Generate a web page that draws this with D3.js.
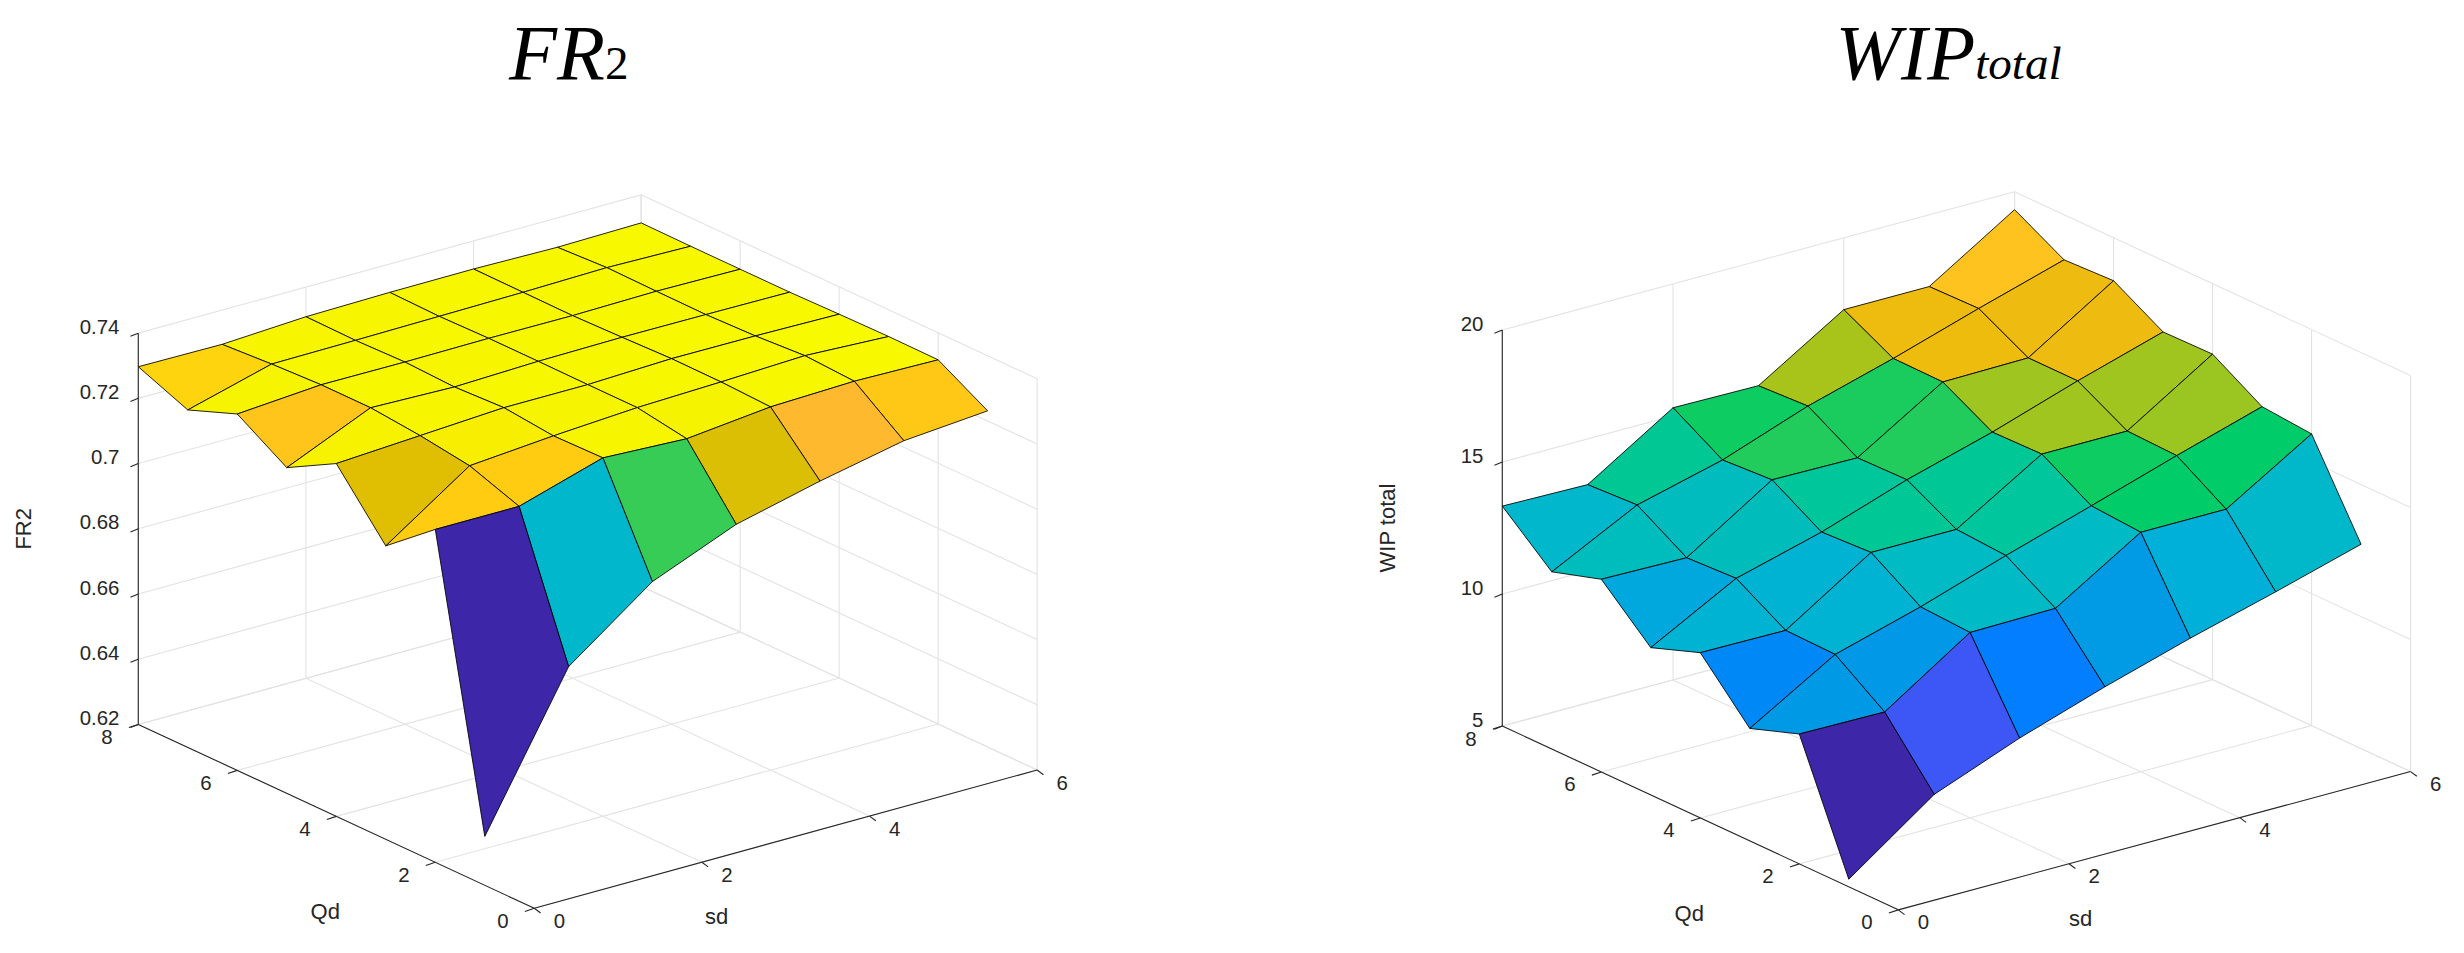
<!DOCTYPE html>
<html><head><meta charset="utf-8">
<script src="https://cdn.jsdelivr.net/npm/d3@7"></script>
<style>body{margin:0;background:#fff}svg{display:block}</style>
</head><body>
<svg id="c" width="2464" height="953"></svg>
<script>
// ---- data ----
const sdVals = [0,1,2,3,4,5,6];
const qdVals = [1,2,3,4,5,6,7,8];
// rows = Qd (1..8), columns = sd (0..6)
const fr2 = [
 [0.635,0.680,0.699,0.7095,0.7157,0.7210,0.7231],
 [0.7221,0.7221,0.7299,0.7287,0.7314,0.7322,0.7317],
 [0.710,0.7275,0.7296,0.7312,0.7320,0.7330,0.7318],
 [0.7282,0.7297,0.7312,0.7312,0.7321,0.7320,0.7316],
 [0.7199,0.7312,0.7305,0.7313,0.7316,0.7315,0.7313],
 [0.7293,0.7312,0.7311,0.7313,0.7312,0.7316,0.7313],
 [0.7235,0.7305,0.7307,0.7310,0.7313,0.7318,0.7313],
 [0.7297,0.7295,0.7309,0.7313,0.7314,0.7310,0.7314]
];
const wip = [
 [5.29,7.63,8.89,9.96,10.93,11.81,12.74],
 [9.92,9.88,12.02,12.06,14.07,14.07,16.05],
 [9.26,11.19,12.12,13.19,14.20,15.23,16.21],
 [11.26,11.23,13.31,13.31,15.29,15.29,17.33],
 [10.58,12.33,13.21,14.32,15.25,16.32,17.30],
 [12.30,12.24,14.32,14.28,16.28,16.32,18.37],
 [11.71,13.37,14.20,15.37,16.30,17.32,18.29],
 [13.33,13.27,15.31,15.27,17.28,17.28,19.32]
];
const sdTicks = [0,2,4,6];
const qdTicks = [0,2,4,6,8];
const fr2Ticks = [0.62,0.64,0.66,0.68,0.7,0.72,0.74];
const fr2TickLabels = ["0.62","0.64","0.66","0.68","0.7","0.72","0.74"];
const wipTicks = [5,10,15,20];
const wipTickLabels = ["5","10","15","20"];

// parula-like colormap
const parulaStops = [
 [0.00,"#3e26a8"],[0.17,"#3d57f8"],[0.26,"#0080ff"],[0.33,"#0099e6"],[0.40,"#00b0d8"],
 [0.48,"#00bac6"],[0.56,"#00c6a0"],[0.63,"#00cc66"],[0.66,"#48cc50"],[0.71,"#9ec520"],
 [0.77,"#e6be00"],[0.82,"#ffb830"],[0.89,"#ffcc10"],[0.95,"#f6f200"],[1.00,"#f8fa00"]
];
const parula = d3.scaleLinear().domain(parulaStops.map(d=>d[0])).range(parulaStops.map(d=>d[1])).interpolate(d3.interpolateRgb);

const k = 2464/1568;
const svg = d3.select("#c");
const root = svg.append("g").attr("transform",`scale(${k})`);
const FONT = "'Liberation Sans', Arial, sans-serif";

function drawPlot(cfg){
  const g = root.append("g");
  const sdX = d3.scaleLinear([0,6],[0,cfg.sdLen[0]]), sdY = d3.scaleLinear([0,6],[0,cfg.sdLen[1]]);
  const qX = d3.scaleLinear([0,8],[0,cfg.qLen[0]]), qY = d3.scaleLinear([0,8],[0,cfg.qLen[1]]);
  const zS = d3.scaleLinear(cfg.zDom,[0,cfg.zLen]);
  const P = (s,q,z)=>[cfg.o[0]+sdX(s)+qX(q), cfg.o[1]+sdY(s)+qY(q)-zS(z)];
  const z0 = cfg.zDom[0], z1 = cfg.zDom[1];
  const line = (a,b,col,w)=>g.append("line").attr("x1",a[0]).attr("y1",a[1]).attr("x2",b[0]).attr("y2",b[1]).attr("stroke",col).attr("stroke-width",w);
  const GC="#e3e3e3", AC="#262626";
  cfg.zTicks.forEach(z=>{ line(P(0,8,z),P(6,8,z),GC,0.7); line(P(6,8,z),P(6,0,z),GC,0.7); });
  sdTicks.forEach(s=>{ line(P(s,8,z0),P(s,8,z1),GC,0.7); line(P(s,0,z0),P(s,8,z0),GC,0.7); });
  qdTicks.forEach(q=>{ line(P(6,q,z0),P(6,q,z1),GC,0.7); line(P(0,q,z0),P(6,q,z0),GC,0.7); });
  line(P(0,8,z0),P(0,8,z1),AC,0.7);
  line(P(0,8,z0),P(0,0,z0),AC,0.7);
  line(P(0,0,z0),P(6,0,z0),AC,0.7);
  const lab = (p,t,anchor)=>g.append("text").attr("x",p[0]).attr("y",p[1]).attr("text-anchor",anchor)
     .attr("dominant-baseline","middle").attr("font-family",FONT).attr("font-size",13).attr("fill","#262626").text(t);
  cfg.zTicks.forEach((z,i)=>{ const p=P(0,8,z); line(p,[p[0]-5,p[1]+2],AC,0.7); lab([p[0]-12,p[1]-3],cfg.zLabels[i],"end"); });
  qdTicks.forEach(q=>{ const p=P(0,q,z0); line(p,[p[0]-6,p[1]+2],AC,0.7); lab([p[0]-20,p[1]+9],String(q),"middle"); });
  sdTicks.forEach(s=>{ const p=P(s,0,z0); line(p,[p[0]+4,p[1]+3],AC,0.7); lab([p[0]+16,p[1]+9],String(s),"middle"); });
  const o0=P(0,0,z0);
  g.append("text").attr("x",o0[0]-133).attr("y",o0[1]+7).attr("text-anchor","middle").attr("font-family",FONT).attr("font-size",14).attr("fill","#262626").text("Qd");
  g.append("text").attr("x",o0[0]+116).attr("y",o0[1]+10).attr("text-anchor","middle").attr("font-family",FONT).attr("font-size",14).attr("fill","#262626").text("sd");
  const zl=P(0,8,(z0+z1)/2);
  g.append("text").attr("transform",`translate(${zl[0]-68},${zl[1]}) rotate(-90)`).attr("text-anchor","middle")
    .attr("font-family",FONT).attr("font-size",14).attr("fill","#262626").text(cfg.zName);
  const data = cfg.Z;
  const flat = data.flat(); const cmin=d3.min(flat), cmax=d3.max(flat);
  const cells=[];
  for(let i=0;i<qdVals.length-1;i++) for(let j=0;j<sdVals.length-1;j++){
    const pts=[[j,i],[j+1,i],[j+1,i+1],[j,i+1]].map(([a,b])=>P(sdVals[a],qdVals[b],data[b][a]));
    const depth = P(sdVals[j]+0.5,qdVals[i]+0.5,z0)[1];
    cells.push({pts,depth,c:(data[i][j]-cmin)/(cmax-cmin)});
  }
  cells.sort((a,b)=>a.depth-b.depth);
  g.selectAll("path.cell").data(cells).enter().append("path").attr("class","cell")
    .attr("d",d=>"M"+d.pts.map(p=>p.join(",")).join("L")+"Z")
    .attr("fill",d=>parula(d.c)).attr("stroke","#000").attr("stroke-width",0.55).attr("stroke-linejoin","round");
}

drawPlot({o:[340,578],sdLen:[320,-88],qLen:[-252,-117],zDom:[0.62,0.74],zLen:249,zTicks:fr2Ticks,zLabels:fr2TickLabels,zName:"FR2",Z:fr2});
drawPlot({o:[1208,579],sdLen:[326,-88],qLen:[-252,-117],zDom:[5,20],zLen:252,zTicks:wipTicks,zLabels:wipTickLabels,zName:"WIP total",Z:wip});

const t1 = root.append("text").attr("x",362).attr("y",50).attr("text-anchor","middle").attr("font-family","'Liberation Serif', 'Times New Roman', serif").attr("font-size",50).attr("fill","#000");
t1.append("tspan").attr("font-style","italic").text("FR");
t1.append("tspan").attr("font-size",30).text("2");
const t2 = root.append("text").attr("x",1240).attr("y",50).attr("text-anchor","middle").attr("font-family","'Liberation Serif', 'Times New Roman', serif").attr("font-size",50).attr("fill","#000").attr("font-style","italic");
t2.append("tspan").text("WIP");
t2.append("tspan").attr("font-size",30).text("total");
</script>
</body></html>
